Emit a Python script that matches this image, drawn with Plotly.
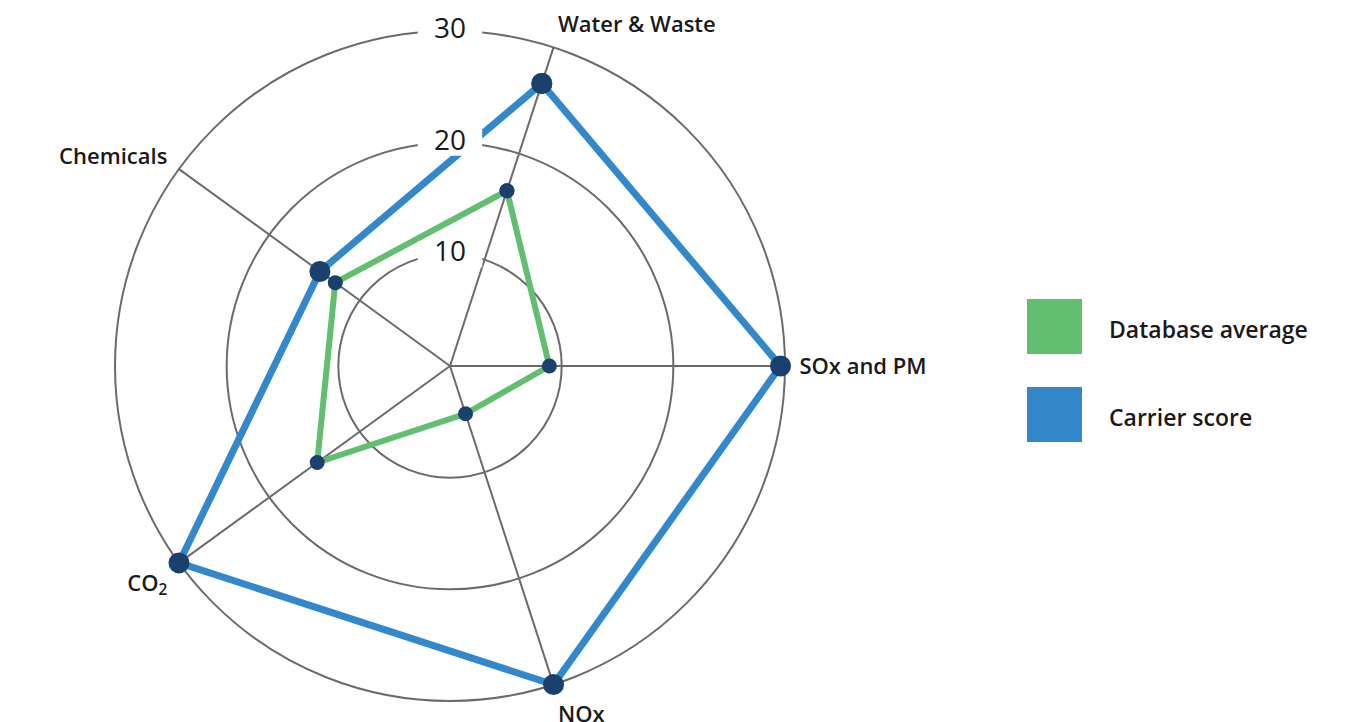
import plotly.graph_objects as go

categories = ["Water & Waste", "SOx and PM", "NOx", "CO<sub>2</sub>", "Chemicals"]
database_average = [16.5, 8.9, 4.5, 14.7, 12.7]
carrier_score = [26.6, 29.6, 30.0, 30.0, 14.4]
series_names = ["Database average", "Carrier score"]
radial_ticks = [10, 20, 30]

GREEN = "#62bf70"
BLUE = "#3388cc"
NAVY = "#1a416e"
GRID = "#6b6b6b"
FONT = "Open Sans"

n = len(categories)
step = 360 / n
offset = step / 4  # first category sits a quarter step clockwise from north
angles = [offset + i * step for i in range(n)]


def closed(vals):
    return list(vals) + [vals[0]]


fig = go.Figure()
fig.add_trace(go.Scatterpolar(
    r=closed(database_average), theta=closed(angles), mode="lines+markers",
    line=dict(color=GREEN, width=6), marker=dict(color=NAVY, size=15),
    cliponaxis=False, hoverinfo="skip", name=series_names[0], showlegend=False))
fig.add_trace(go.Scatterpolar(
    r=closed(carrier_score), theta=closed(angles), mode="lines+markers",
    line=dict(color=BLUE, width=7), marker=dict(color=NAVY, size=21),
    cliponaxis=False, hoverinfo="skip", name=series_names[1], showlegend=False))
# radial tick labels with white backing
fig.add_trace(go.Scatterpolar(
    r=radial_ticks, theta=[0] * len(radial_ticks), mode="markers+text",
    text=[str(t) for t in radial_ticks], textposition="middle center",
    textfont=dict(family=FONT, size=28, color="#1a1a1a"),
    marker=dict(symbol="line-ew", size=46, color="white",
                line=dict(color="white", width=26)),
    cliponaxis=False, hoverinfo="skip", showlegend=False))

W, H = 1349, 722
cx, cy, R = 450, 366, 335
fig.update_layout(
    width=W, height=H, margin=dict(l=0, r=0, t=0, b=0),
    paper_bgcolor="white", plot_bgcolor="white",
    font=dict(family=FONT, color="#1a1a1a"),
    polar=dict(
        domain=dict(x=[(cx - R) / W, (cx + R) / W], y=[1 - (cy + R) / H, 1 - (cy - R) / H]),
        bgcolor="white",
        angularaxis=dict(
            thetaunit="degrees", rotation=90, direction="clockwise",
            tickmode="array", tickvals=angles, ticktext=categories,
            tickfont=dict(family=FONT, size=22, color="#1a1a1a", weight=600),
            showgrid=True, gridcolor=GRID, gridwidth=2,
            showline=True, linecolor=GRID, linewidth=2,
            ticks="outside", ticklen=9, tickcolor="rgba(0,0,0,0)",
            layer="below traces"),
        radialaxis=dict(
            range=[0, 30], tickvals=radial_ticks, showticklabels=False,
            showline=False, ticks="", gridcolor=GRID, gridwidth=2, angle=90,
            layer="below traces"),
    ),
    showlegend=False,
)

legend_colors = [GREEN, BLUE]
legend_tops = [299, 387]
for name, col, top in zip(series_names, legend_colors, legend_tops):
    fig.add_shape(type="rect", xref="paper", yref="paper",
                  x0=1027 / W, x1=1082 / W, y0=1 - (top + 55) / H, y1=1 - top / H,
                  fillcolor=col, line=dict(width=0))
    fig.add_annotation(xref="paper", yref="paper", x=1107 / W, y=1 - (top + 30) / H,
                       text=name, showarrow=False, xanchor="left", yanchor="middle",
                       font=dict(family=FONT, size=23, color="#1a1a1a", weight=600))

fig.write_html("out.html")
